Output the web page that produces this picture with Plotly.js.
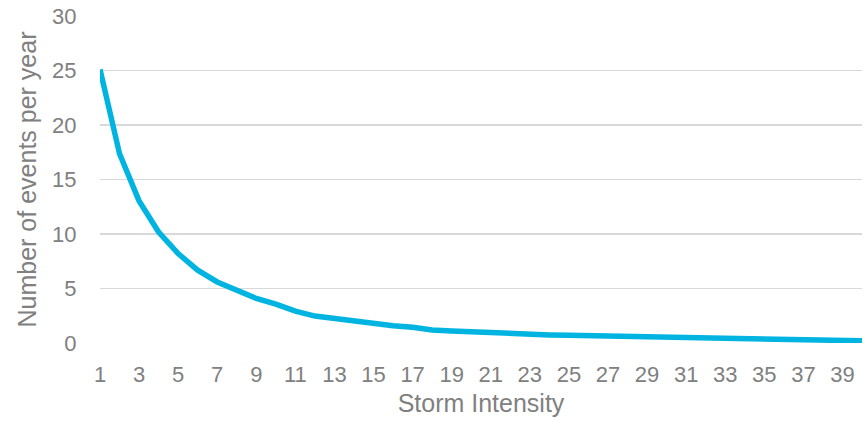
<!DOCTYPE html>
<html>
<head>
<meta charset="utf-8">
<script src="https://cdn.plot.ly/plotly-3.0.1.min.js"></script>
<style>
  html, body { margin: 0; padding: 0; background: #ffffff; }
  #chart { width: 864px; height: 423px; }
</style>
</head>
<body>
<div id="chart"></div>
<script>
// Storm intensity categories
const intensity = [1,2,3,4,5,6,7,8,9,10,11,12,13,14,15,16,17,18,19,20,
                   21,22,23,24,25,26,27,28,29,30,31,32,33,34,35,36,37,38,39,40];
// Number of events per year
const eventsPerYear = [25.1,17.36,13.04,10.18,8.2,6.68,5.6,4.79,4.09,3.57,
                       2.93,2.47,2.22,2.01,1.8,1.58,1.44,1.19,1.1,1.01,
                       0.94,0.85,0.8,0.74,0.70,0.66,0.62,0.58,0.54,0.51,
                       0.48,0.45,0.42,0.39,0.36,0.33,0.29,0.26,0.23,0.2];
// Tick labels
const xTickVals = [1,3,5,7,9,11,13,15,17,19,21,23,25,27,29,31,33,35,37,39];
const yTickVals = [0,5,10,15,20,25,30];

const textColor = '#808080';
const fontFamily = 'Liberation Sans, Arial, sans-serif';

const trace = {
  x: intensity,
  y: eventsPerYear,
  type: 'scatter',
  mode: 'lines',
  line: { color: '#00B4E1', width: 5.5 },
  hoverinfo: 'x+y'
};

const layout = {
  width: 864,
  height: 423,
  margin: { l: 100, r: 2, t: 16, b: 80 },
  paper_bgcolor: '#ffffff',
  plot_bgcolor: '#ffffff',
  showlegend: false,
  font: { family: fontFamily, color: textColor },
  xaxis: {
    range: [1, 40],
    tickvals: xTickVals,
    ticktext: xTickVals.map(String),
    tickfont: { size: 22, color: textColor, family: fontFamily },
    ticks: 'outside',
    ticklen: 12,
    tickcolor: 'rgba(0,0,0,0)',
    showgrid: false,
    zeroline: false,
    showline: false,
    automargin: false,
    title: { text: 'Storm Intensity', font: { size: 25, color: textColor, family: fontFamily }, standoff: 8 }
  },
  yaxis: {
    range: [0, 30],
    tickvals: yTickVals,
    tickfont: { size: 22, color: textColor, family: fontFamily },
    ticks: 'outside',
    ticklen: 18,
    tickcolor: 'rgba(0,0,0,0)',
    showgrid: true,
    gridcolor: '#d9d9d9',
    gridwidth: 1.3,
    zeroline: false,
    showline: false,
    automargin: false,
    title: { text: 'Number of events per year', font: { size: 25, color: textColor, family: fontFamily }, standoff: 8 }
  }
};

Plotly.newPlot('chart', [trace], layout, { staticPlot: true, displayModeBar: false });
</script>
</body>
</html>
